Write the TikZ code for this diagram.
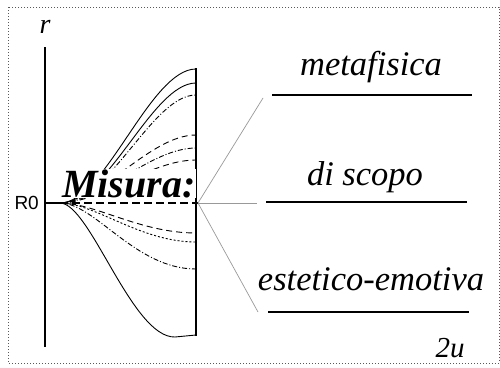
\documentclass[tikz,border=0pt]{standalone}
\usepackage{fontspec}
\setmainfont{Liberation Serif}
\newfontfamily\sansf{Liberation Sans}
\begin{document}
\begin{tikzpicture}[x=1pt,y=-1pt,
  axisline/.style={line width=2pt,black},
  rline/.style={line width=1.2pt,black},
  curve/.style={line width=0.9pt,black},
  fanline/.style={line width=0.7pt,gray!80},
  levelline/.style={line width=2pt,black},
  lbl/.style={font=\fontsize{34.5}{36}\selectfont\itshape,anchor=base,inner sep=0pt},
]
\useasboundingbox (0,0) rectangle (500,367);
\draw[dotted,line width=1pt,gray!70!black] (8,7) rectangle (499,363);

% axis
\coordinate (atop) at (45,47);
\coordinate (abot) at (45,347);
\draw[axisline] (atop) -- (abot);
\node[font=\fontsize{28}{30}\selectfont\itshape,anchor=base,inner sep=0pt] (r) at (45,33) {r};
\node[font=\sansf\fontsize{19}{21}\selectfont,anchor=east,inner sep=0pt] (R0) at (39,203) {R0};

% right measure line
\coordinate (rtop) at (196,68);
\coordinate (rbot) at (196,336);
\draw[rline] (rtop) -- (rbot);

\coordinate (a0) at (45,203);
\coordinate (s) at (60,203);
\coordinate (fan) at (198,203);
\draw[axisline] (a0) -- (s);

% upper curves
\draw[curve] (s) .. controls (105,203) and (150,69) .. (196,69);
\draw[curve] (s) .. controls (108,203) and (152,83) .. (196,83);
\draw[curve,dash pattern=on 5pt off 2pt on 1pt off 2pt] (s) .. controls (110,203) and (152,95) .. (196,95);
\draw[curve,dash pattern=on 6pt off 4pt] (s) .. controls (100,203) and (150,135) .. (196,135);
\draw[curve,dash pattern=on 5pt off 2pt on 1pt off 2pt] (s) .. controls (100,203) and (150,148) .. (196,148);
\draw[curve,dash pattern=on 6pt off 4pt] (s) .. controls (100,203) and (150,160) .. (196,160);

% lower curves
\draw[curve,dash pattern=on 6pt off 4pt] (s) .. controls (95,203) and (140,233) .. (196,233);
\draw[curve,dash pattern=on 2pt off 2pt] (s) .. controls (95,203) and (140,242) .. (196,242);
\draw[curve,dash pattern=on 5pt off 2pt on 1pt off 2pt] (s) .. controls (95,203) and (135,269) .. (196,269);
\draw[curve] (s) .. controls (90,203) and (132,338) .. (175,337) -- (196,335);

% Misura
\node[font=\fontsize{40}{42}\selectfont\bfseries\itshape,anchor=base,inner sep=0pt,fill=white] (mis) at (129,197) {Misura:};
\draw[line width=2pt,dash pattern=on 8pt off 4pt] (s) -- (fan);

% fan lines
\coordinate (f1) at (263,98);
\coordinate (f2) at (257,203);
\coordinate (f3) at (258,312);
\draw[fanline] (fan) -- (f1);
\draw[fanline] (fan) -- (f2);
\draw[fanline] (fan) -- (f3);

% level lines
\coordinate (l1a) at (272,95); \coordinate (l1b) at (472,95);
\coordinate (l2a) at (266,202); \coordinate (l2b) at (467,202);
\coordinate (l3a) at (268,312); \coordinate (l3b) at (469,312);
\draw[levelline] (l1a) -- (l1b);
\draw[levelline] (l2a) -- (l2b);
\draw[levelline] (l3a) -- (l3b);

\node[lbl] (t1) at (371,75) {metafisica};
\node[lbl] (t2) at (365,185) {di scopo};
\node[lbl] (t3) at (371,290) {estetico-emotiva};
\node[font=\fontsize{29}{31}\selectfont\itshape,anchor=base,inner sep=0pt] (u) at (450,357) {2u};
\end{tikzpicture}
\end{document}
